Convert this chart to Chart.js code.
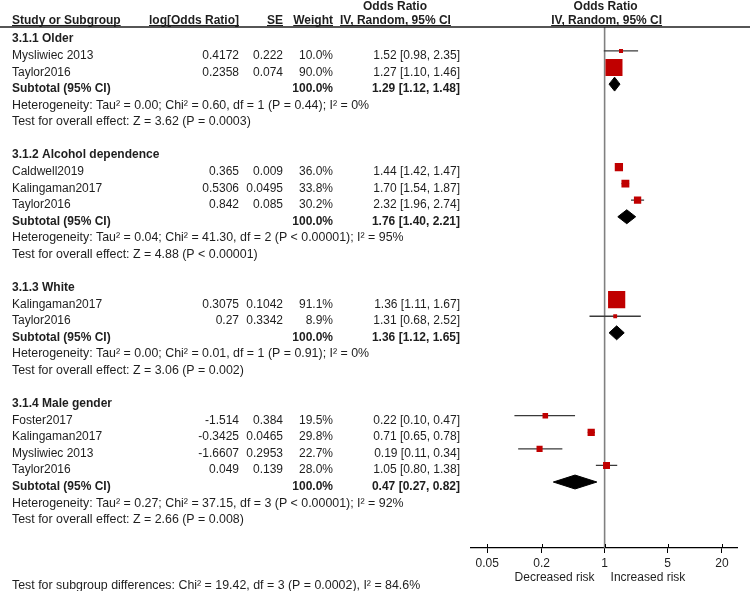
<!DOCTYPE html>
<html>
<head>
<meta charset="utf-8">
<script src="https://cdn.jsdelivr.net/npm/chart.js@4.4.1/dist/chart.umd.min.js"></script>
<style>
  html, body { margin: 0; padding: 0; background: #fff; }
  #wrap { width: 750px; height: 591px; }
</style>
</head>
<body>
<div id="wrap"><canvas id="forest" width="750" height="591"></canvas></div>
<script>
// ─── Data ──────────────────────────────────────────────

const groupNames = ['3.1.1 Older', '3.1.2 Alcohol dependence', '3.1.3 White', '3.1.4 Male gender'];

const studyNames = ['Mysliwiec 2013', 'Taylor2016', 'Caldwell2019', 'Kalingaman2017', 'Taylor2016',
                    'Kalingaman2017', 'Taylor2016', 'Foster2017', 'Kalingaman2017', 'Mysliwiec 2013', 'Taylor2016'];
const studyGroup = [0, 0, 1, 1, 1, 2, 2, 3, 3, 3, 3];
const logOR      = ['0.4172', '0.2358', '0.365', '0.5306', '0.842', '0.3075', '0.27', '-1.514', '-0.3425', '-1.6607', '0.049'];
const stdErr     = ['0.222', '0.074', '0.009', '0.0495', '0.085', '0.1042', '0.3342', '0.384', '0.0465', '0.2953', '0.139'];
const weight     = [10.0, 90.0, 36.0, 33.8, 30.2, 91.1, 8.9, 19.5, 29.8, 22.7, 28.0];
const oddsRatio  = [1.52, 1.27, 1.44, 1.70, 2.32, 1.36, 1.31, 0.22, 0.71, 0.19, 1.05];
const ciLow      = [0.98, 1.10, 1.42, 1.54, 1.96, 1.11, 0.68, 0.10, 0.65, 0.11, 0.80];
const ciHigh     = [2.35, 1.46, 1.47, 1.87, 2.74, 1.67, 2.52, 0.47, 0.78, 0.34, 1.38];

const subOR   = [1.29, 1.76, 1.36, 0.47];
const subLow  = [1.12, 1.40, 1.12, 0.27];
const subHigh = [1.48, 2.21, 1.65, 0.82];

const heterogeneity = [
  'Heterogeneity: Tau² = 0.00; Chi² = 0.60, df = 1 (P = 0.44); I² = 0%',
  'Heterogeneity: Tau² = 0.04; Chi² = 41.30, df = 2 (P < 0.00001); I² = 95%',
  'Heterogeneity: Tau² = 0.00; Chi² = 0.01, df = 1 (P = 0.91); I² = 0%',
  'Heterogeneity: Tau² = 0.27; Chi² = 37.15, df = 3 (P < 0.00001); I² = 92%',
];
const overallEffect = [
  'Test for overall effect: Z = 3.62 (P = 0.0003)',
  'Test for overall effect: Z = 4.88 (P < 0.00001)',
  'Test for overall effect: Z = 3.06 (P = 0.002)',
  'Test for overall effect: Z = 2.66 (P = 0.008)',
];
const subgroupTest = 'Test for subgroup differences: Chi² = 19.42, df = 3 (P = 0.0002), I² = 84.6%';

const axisTicks = [0.05, 0.2, 1, 5, 20];

// ─── Layout ────────────────────────────────────────────

const FONT   = '"Liberation Sans", Arial, sans-serif';
const INK    = '#1e1e1e';
const Y_MIN  = -0.446;
const Y_MAX  = 30.98;
const X_MIN  = 0.033;
const X_MAX  = 30;

// one row per line of the table, index = y value on the chart
const rows = [];
groupNames.forEach((name, g) => {
  rows.push({ kind: 'group', g });
  studyGroup.forEach((sg, s) => { if (sg === g) rows.push({ kind: 'study', s }); });
  rows.push({ kind: 'subtotal', g });
  rows.push({ kind: 'het', g });
  rows.push({ kind: 'test', g });
  if (g < groupNames.length - 1) rows.push({ kind: 'blank' });
});
const rowOfStudy = {};
const rowOfGroup = {};
rows.forEach((r, i) => {
  if (r.kind === 'study') rowOfStudy[r.s] = i;
  if (r.kind === 'subtotal') rowOfGroup[r.g] = i;
});

// ─── Datasets ──────────────────────────────────────────

const datasets = [];

datasets.push({
  type: 'line',
  data: [{ x: 1, y: Y_MIN }, { x: 1, y: Y_MAX }],
  borderColor: '#808080',
  borderWidth: 1.6,
  pointRadius: 0,
  order: 4,
});

studyNames.forEach((_, s) => {
  const y = rowOfStudy[s];
  datasets.push({
    type: 'line',
    data: [{ x: ciLow[s], y }, { x: ciHigh[s], y }],
    borderColor: '#3a3a3a',
    borderWidth: 1.3,
    pointRadius: 0,
    order: 3,
  });
});

datasets.push({
  type: 'scatter',
  data: studyNames.map((_, s) => ({ x: oddsRatio[s], y: rowOfStudy[s] })),
  pointStyle: 'rect',
  pointRadius: weight.map(w => (2.4 + 0.1625 * w) / Math.SQRT2),
  pointHoverRadius: weight.map(w => (2.4 + 0.1625 * w) / Math.SQRT2),
  backgroundColor: '#c00000',
  borderWidth: 0,
  order: 2,
});

groupNames.forEach((_, g) => {
  const y = rowOfGroup[g];
  datasets.push({
    type: 'line',
    data: [
      { x: subLow[g], y },
      { x: subOR[g], y: y - 0.42 },
      { x: subHigh[g], y },
      { x: subOR[g], y: y + 0.42 },
      { x: subLow[g], y },
    ],
    fill: 'shape',
    backgroundColor: '#000',
    borderColor: '#000',
    borderWidth: 1,
    pointRadius: 0,
    order: 1,
  });
});

// ─── Table text ────────────────────────────────────────

function txt(ctx, s, x, y, align, bold, size) {
  ctx.font = (bold ? 'bold ' : '') + (size || 12) + 'px ' + FONT;
  ctx.textAlign = align;
  ctx.fillText(s, x, y);
}

function underlined(ctx, s, x, y, align) {
  txt(ctx, s, x, y, align, true);
  const w = ctx.measureText(s).width;
  const x0 = align === 'right' ? x - w : align === 'center' ? x - w / 2 : x;
  ctx.beginPath();
  ctx.moveTo(x0, y + 1.5);
  ctx.lineTo(x0 + w, y + 1.5);
  ctx.stroke();
}

const tablePlugin = {
  id: 'table',
  afterDraw(chart) {
    const ctx = chart.ctx;
    const xs  = chart.scales.x;
    const ys  = chart.scales.y;
    const one = xs.getPixelForValue(1);
    const bottom = chart.chartArea.bottom;

    ctx.save();
    ctx.fillStyle = INK;
    ctx.strokeStyle = INK;
    ctx.lineWidth = 1;
    ctx.textBaseline = 'alphabetic';

    // header
    txt(ctx, 'Odds Ratio', 363, 10, 'left', true);
    txt(ctx, 'Odds Ratio', one + 1, 10, 'center', true);
    underlined(ctx, 'Study or Subgroup', 12, 24, 'left');
    underlined(ctx, 'log[Odds Ratio]', 239, 24, 'right');
    underlined(ctx, 'SE', 283, 24, 'right');
    underlined(ctx, 'Weight', 333, 24, 'right');
    underlined(ctx, 'IV, Random, 95% CI', 340, 24, 'left');
    underlined(ctx, 'IV, Random, 95% CI', one + 2, 24, 'center');

    ctx.lineWidth = 1.5;
    ctx.beginPath();
    ctx.moveTo(0, 27);
    ctx.lineTo(750, 27);
    ctx.stroke();

    // rows
    rows.forEach((r, i) => {
      const y = ys.getPixelForValue(i) + 8;
      if (r.kind === 'group') {
        txt(ctx, groupNames[r.g], 12, y, 'left', true);
      } else if (r.kind === 'study') {
        const s = r.s;
        txt(ctx, studyNames[s], 12, y, 'left', false);
        txt(ctx, logOR[s], 239, y, 'right', false);
        txt(ctx, stdErr[s], 283, y, 'right', false);
        txt(ctx, weight[s].toFixed(1) + '%', 333, y, 'right', false);
        txt(ctx, `${oddsRatio[s].toFixed(2)} [${ciLow[s].toFixed(2)}, ${ciHigh[s].toFixed(2)}]`, 460, y, 'right', false);
      } else if (r.kind === 'subtotal') {
        const g = r.g;
        txt(ctx, 'Subtotal (95% CI)', 12, y, 'left', true);
        txt(ctx, '100.0%', 333, y, 'right', true);
        txt(ctx, `${subOR[g].toFixed(2)} [${subLow[g].toFixed(2)}, ${subHigh[g].toFixed(2)}]`, 460, y, 'right', true);
      } else if (r.kind === 'het') {
        txt(ctx, heterogeneity[r.g], 12, y, 'left', false, 12.4);
      } else if (r.kind === 'test') {
        txt(ctx, overallEffect[r.g], 12, y, 'left', false, 12.4);
      }
    });

    // tick stubs above the axis
    ctx.strokeStyle = '#000';
    ctx.lineWidth = 1;
    ctx.beginPath();
    axisTicks.forEach(v => {
      const px = Math.round(xs.getPixelForValue(v)) + 0.5;
      ctx.moveTo(px, bottom - 4);
      ctx.lineTo(px, bottom);
    });
    ctx.stroke();

    txt(ctx, 'Decreased risk', one - 10, 581, 'right', false);
    txt(ctx, 'Increased risk', one + 6, 581, 'left', false);
    txt(ctx, subgroupTest, 12, 589, 'left', false, 12.4);

    ctx.restore();
  },
};

// ─── Chart ─────────────────────────────────────────────

Chart.defaults.font.family = FONT;
Chart.defaults.font.size = 12;
Chart.defaults.color = INK;

new Chart(document.getElementById('forest'), {
  type: 'scatter',
  data: { datasets },
  options: {
    responsive: false,
    animation: false,
    layout: { padding: { left: 471, right: 12, top: 27, bottom: 13 } },
    plugins: {
      legend: { display: false },
      tooltip: { enabled: false },
    },
    scales: {
      x: {
        type: 'logarithmic',
        min: X_MIN,
        max: X_MAX,
        afterBuildTicks: s => { s.ticks = axisTicks.map(v => ({ value: v })); },
        afterFit: s => { s.height = 30; },
        ticks: {
          callback: v => String(v),
          autoSkip: false,
          maxRotation: 0,
          padding: 3,
          color: INK,
          font: { size: 12 },
        },
        grid: { drawOnChartArea: false, tickLength: 5, color: '#000', lineWidth: 1 },
        border: { display: true, color: '#000', width: 1.3 },
      },
      y: {
        type: 'linear',
        reverse: true,
        min: Y_MIN,
        max: Y_MAX,
        display: false,
      },
    },
  },
  plugins: [tablePlugin],
});
</script>
</body>
</html>
